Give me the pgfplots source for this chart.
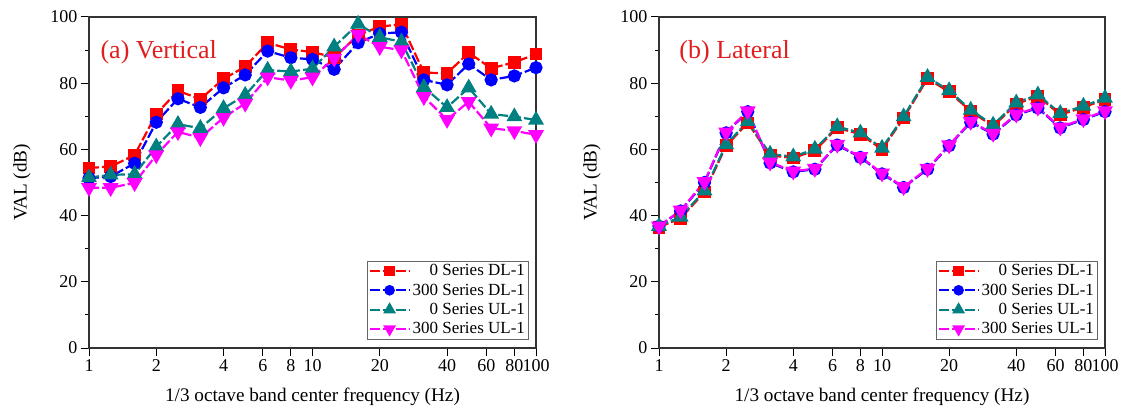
\documentclass[border=0pt]{standalone}
\usepackage{fontspec}
\setmainfont{Liberation Serif}
\usepackage{pgfplots}
\pgfplotsset{compat=1.18}
\usepackage{pgfplotstable}

\definecolor{cred}{RGB}{255,0,0}
\definecolor{cblue}{RGB}{0,0,255}
\definecolor{cteal}{RGB}{0,128,128}
\definecolor{cmag}{RGB}{255,0,255}
\definecolor{ctitle}{RGB}{225,30,30}

% (a) Vertical
\pgfplotstableread{
f     dl0   dl300  ul0   ul300
1     54.4  51.3   51.5  48.4
1.25  54.8  51.8   52.3  48.4
1.6   58.3  55.8   52.5  49.9
2     70.7  68.2   60.8  58.3
2.5   77.7  75.3   67.6  65.3
3.15  75.2  72.7   66.4  63.5
4     81.3  78.6   72.4  69.6
5     85.0  82.5   76.4  73.9
6.3   92.2  89.7   84.0  81.8
8     90.2  87.7   83.5  80.8
10    89.4  87.2   84.4  81.8
12.5  87.8  84.2   91.0  87.5
16    94.5  92.2   97.9  94.7
20    97.1  95.0   93.9  91.0
25    97.8  95.4   92.5  90.0
31.5  83.2  81.0   78.8  75.9
40    83.0  79.5   72.7  69.0
50    89.2  85.8   78.6  74.4
63    84.5  81.0   70.7  66.4
80    86.3  82.2   69.9  65.6
100   88.8  84.7   68.9  64.4
}\vertical

% (b) Lateral
\pgfplotstableread{
f     dl0   dl300  ul0   ul300
1     36.5  36.8   36.8  36.8
1.25  39.2  41.4   39.6  41.6
1.6   47.1  50.0   47.5  50.2
2     61.1  65.0   61.5  65.2
2.5   68.0  71.4   68.4  71.6
3.15  58.2  55.9   58.6  56.1
4     57.4  53.2   57.8  53.4
5     59.7  54.0   60.1  54.2
6.3   66.5  61.3   66.9  61.5
8     64.6  57.6   65.0  57.8
10    60.0  52.6   60.4  52.8
12.5  69.5  48.5   69.9  48.7
16    81.4  54.0   81.8  54.2
20    77.4  61.1   77.8  61.3
25    71.5  68.2   71.9  68.4
31.5  67.0  64.6   67.4  64.8
40    73.7  70.4   74.1  70.6
50    76.1  72.5   76.5  72.7
63    70.5  66.5   70.9  66.7
80    72.7  69.0   73.1  69.2
100   75.1  71.4   75.5  71.6
}\lateral

\pgfplotsset{
  every axis/.append style={
    scale only axis, height=331pt,
    xmin=1, xmax=100, ymin=0, ymax=100,
    xtick={1,2,4,6,8,10,20,40,60,80,100},
    xticklabels={1,2,4,6,8,10,20,40,60,80,100},
    minor xtick={},
    ytick={0,20,40,60,80,100}, minor ytick={10,30,50,70,90},
    tick pos=left, tick align=outside,
    major tick length=8pt, minor tick length=4pt,
    every tick/.style={black, line width=1pt},
    axis line style={line width=1.2pt, black!80},
    tick label style={font=\fontsize{18}{18}\selectfont},
    /pgf/number format/assume math mode=true,
    xlabel style={font=\fontsize{19.2}{19.2}\selectfont},
    ylabel style={font=\fontsize{19.2}{19.2}\selectfont},
    xlabel={1/3 octave band center frequency (Hz)},
    ylabel={VAL (dB)},
    xlabel shift=9pt, ylabel shift=13pt,
    legend style={at={(rel axis cs:0.984,0.026)}, anchor=south east,
      font=\fontsize{17}{17}\selectfont, draw=black!60, line width=0.8pt,
      inner sep=1.5pt, row sep=2.6pt},
    legend cell align=right,
    legend image code/.code={
      \draw[mark repeat=2, mark phase=2, #1, line width=2pt,
            every mark/.append style={scale=0.78}]
        plot coordinates {(0pt,0pt) (20pt,0pt) (40pt,0pt)};},
  },
  every axis plot/.append style={line width=2.2pt, dash pattern=on 10pt off 3pt},
  s1/.style={cred, mark=square*, mark size=5.3pt, mark options={solid}},
  s2/.style={cblue, mark=*, mark size=5.5pt, mark options={solid}},
  s3/.style={cteal, mark=triangle*, mark size=7pt, mark options={solid}},
  s4/.style={cmag, mark=triangle*, mark size=7pt, mark options={solid, rotate=180}},
}

\begin{document}
\begin{tikzpicture}[x=1pt,y=1pt]
\useasboundingbox (0,0) rectangle (1122,410);

\begin{axis}[xmode=log, width=447pt, at={(89pt,62pt)}, anchor=south west]
\addplot[s1] table[x=f,y=dl0] {\vertical};
\addplot[s2] table[x=f,y=dl300] {\vertical};
\addplot[s3] table[x=f,y=ul0] {\vertical};
\addplot[s4] table[x=f,y=ul300] {\vertical};
\legend{0 Series DL-1,300 Series DL-1,0 Series UL-1,300 Series UL-1}
\node[anchor=west, text=ctitle, font=\fontsize{26}{26}\selectfont]
  at (rel axis cs:0.018,0.893) {(a) Vertical};
\end{axis}

\begin{axis}[xmode=log, width=446pt, at={(659pt,62pt)}, anchor=south west]
\addplot[s1] table[x=f,y=dl0] {\lateral};
\addplot[s2] table[x=f,y=dl300] {\lateral};
\addplot[s3] table[x=f,y=ul0] {\lateral};
\addplot[s4] table[x=f,y=ul300] {\lateral};
\legend{0 Series DL-1,300 Series DL-1,0 Series UL-1,300 Series UL-1}
\node[anchor=west, text=ctitle, font=\fontsize{26}{26}\selectfont]
  at (rel axis cs:0.038,0.893) {(b) Lateral};
\end{axis}
\end{tikzpicture}
\end{document}
